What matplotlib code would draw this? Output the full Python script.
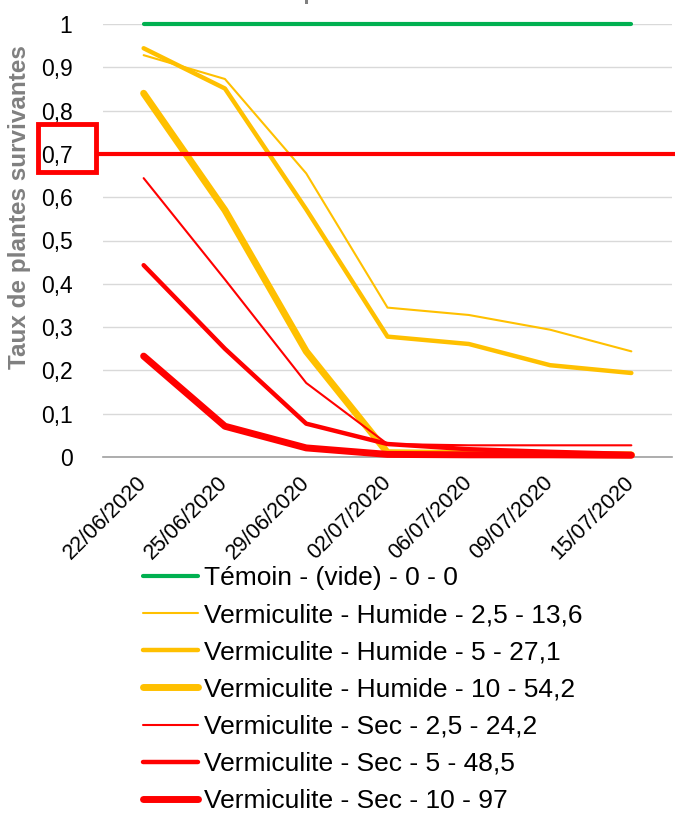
import matplotlib.pyplot as plt
from matplotlib.lines import Line2D
from matplotlib.patches import Rectangle
from matplotlib.ticker import FuncFormatter

plt.rcParams['font.family'] = ['Liberation Sans', 'DejaVu Sans']

dates = ['22/06/2020', '25/06/2020', '29/06/2020', '02/07/2020',
         '06/07/2020', '09/07/2020', '15/07/2020']

temoin = [1, 1, 1, 1, 1, 1, 1]
hum_25 = [0.928, 0.873, 0.655, 0.345, 0.328, 0.294, 0.244]
hum_5 = [0.944, 0.851, 0.572, 0.278, 0.261, 0.212, 0.194]
hum_10 = [0.840, 0.570, 0.244, 0.010, 0.008, 0.006, 0.005]
sec_25 = [0.644, 0.410, 0.171, 0.030, 0.027, 0.027, 0.027]
sec_5 = [0.443, 0.250, 0.077, 0.030, 0.018, 0.012, 0.007]
sec_10 = [0.233, 0.071, 0.021, 0.006, 0.005, 0.005, 0.004]

labels = ['Témoin - (vide) - 0 - 0',
          'Vermiculite - Humide - 2,5 - 13,6',
          'Vermiculite - Humide - 5 - 27,1',
          'Vermiculite - Humide - 10 - 54,2',
          'Vermiculite - Sec - 2,5 - 24,2',
          'Vermiculite - Sec - 5 - 48,5',
          'Vermiculite - Sec - 10 - 97']

W, H = 675, 815
fig = plt.figure(figsize=(W / 100, H / 100), dpi=100)

# axes placed in pixel terms
ax_l, ax_r, ax_t, ax_b = 103, 672, 24, 457
ax = fig.add_axes([ax_l / W, 1 - ax_b / H, (ax_r - ax_l) / W, (ax_b - ax_t) / H])

green = '#00B050'
yellow = '#FFC000'
red = '#FF0000'

x = range(len(dates))
series = [
    (temoin, green, 3.0),
    (hum_25, yellow, 1.5),
    (hum_5, yellow, 3.2),
    (hum_10, yellow, 5.0),
    (sec_25, red, 1.5),
    (sec_5, red, 3.2),
    (sec_10, red, 5.0),
]
handles = []
for (vals, col, lw), lab in zip(series, labels):
    ln, = ax.plot(x, vals, color=col, lw=lw, solid_capstyle='round',
                  solid_joinstyle='round', label=lab, clip_on=False, zorder=3)
    handles.append(ln)

ax.set_xlim(-0.5, len(dates) - 0.5)
ax.set_ylim(0, 1)
ax.set_yticks([i / 10 for i in range(11)])
ax.yaxis.set_major_formatter(FuncFormatter(lambda v, p: ('%g' % round(v, 1)).replace('.', ',')))
ax.set_xticks(list(x))
ax.set_xticklabels(dates, rotation=45, ha='right', va='center', rotation_mode='anchor')

ax.grid(axis='y', color='#D9D9D9', lw=1)
ax.set_axisbelow(True)
for s in ['top', 'right', 'left']:
    ax.spines[s].set_visible(False)
ax.spines['bottom'].set_color('#A0A0A0')
ax.spines['bottom'].set_linewidth(1.2)
ax.tick_params(axis='y', length=0, pad=22, labelsize=16.5, labelcolor='black')
ax.tick_params(axis='x', length=0, pad=16, labelsize=15.5, labelcolor='black')

# y label and cut-off title (the chart title sits just above the top edge)
fig.text(20 / W, 1 - 207 / H, 'Taux de plantes survivantes', rotation=90,
         ha='center', va='center', fontsize=17.5, fontweight='bold', color='#808080')
fig.text(363 / W, 1 + 1 / H, 'Taux de plantes survivantes', ha='center',
         va='baseline', fontsize=16, fontweight='bold', color='#808080')

# threshold line at 0.7 and box around the label
y07 = 1 - (ax_b - 0.7 * (ax_b - ax_t)) / H
fig.add_artist(Line2D([97 / W, 1], [y07, y07], color=red, lw=3,
                      transform=fig.transFigure))
fig.add_artist(Rectangle((38 / W, 1 - 172 / H), 58 / W, 48 / H, fill=False,
                         edgecolor=red, lw=3.5, transform=fig.transFigure))

fig.legend(handles=handles, labels=labels, loc='upper left',
           bbox_to_anchor=(143 / W, 1 - 566 / H), frameon=False, fontsize=19,
           handlelength=2.1, handletextpad=0.2, labelspacing=0.5,
           borderpad=0, borderaxespad=0)

fig.savefig('out.png', dpi=100)
